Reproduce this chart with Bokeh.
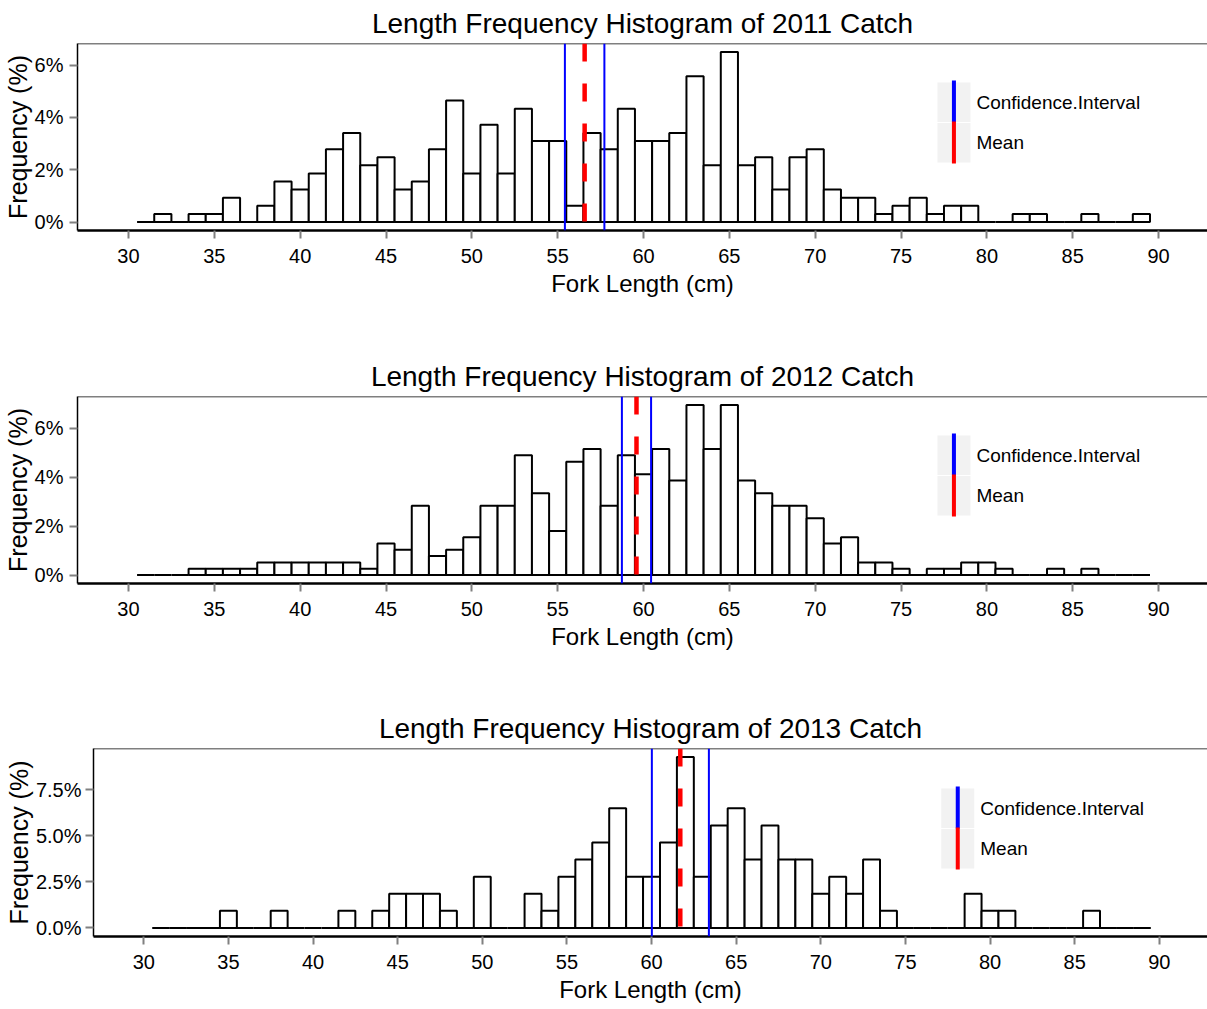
from bokeh.plotting import figure
from bokeh.models import Span, Label, BoxAnnotation, FixedTicker
from bokeh.embed import file_html
from bokeh.resources import INLINE

# ---- data -------------------------------------------------------------
bin_centers = list(range(31, 90))          # 1 cm bins, 30.5 .. 89.5
bin_width = 1.0

counts_2011 = [0, 1, 0, 1, 1, 3, 0, 2, 5, 4,
               6, 9, 11, 7, 8, 4, 5, 9, 15, 6,
               12, 6, 14, 10, 10, 2, 11, 9, 14, 10,
               10, 11, 18, 7, 21, 7, 8, 4, 8, 9,
               4, 3, 3, 1, 2, 3, 1, 2, 2, 0,
               0, 1, 1, 0, 0, 1, 0, 0, 1]
counts_2012 = [0, 0, 0, 1, 1, 1, 1, 2, 2, 2,
               2, 2, 2, 1, 5, 4, 11, 3, 4, 6,
               11, 11, 19, 13, 7, 18, 20, 11, 19, 16,
               20, 15, 27, 20, 27, 15, 13, 11, 11, 9,
               5, 6, 2, 2, 1, 0, 1, 1, 2, 2,
               1, 0, 0, 1, 0, 1, 0, 0, 0]
counts_2013 = [0, 0, 0, 0, 1, 0, 0, 1, 0, 0,
               0, 1, 0, 1, 2, 2, 2, 1, 0, 3,
               0, 0, 2, 1, 3, 4, 5, 7, 3, 3,
               5, 10, 3, 6, 7, 4, 6, 4, 4, 2,
               3, 2, 4, 1, 0, 0, 0, 0, 2, 1,
               1, 0, 0, 0, 0, 1, 0, 0, 0]

years = ["2011", "2012", "2013"]
means = [56.57, 59.59, 61.70]
ci_low = [55.42, 58.74, 60.02]
ci_high = [57.72, 60.44, 63.39]

x_ticks = [30, 35, 40, 45, 50, 55, 60, 65, 70, 75, 80, 85, 90]
y_ticks_pct = [0, 2, 4, 6]
y_labels_pct = ["0%", "2%", "4%", "6%"]
y_ticks_pct_fine = [0, 2.5, 5, 7.5]
y_labels_pct_fine = ["0.0%", "2.5%", "5.0%", "7.5%"]
legend_labels = ["Confidence.Interval", "Mean"]

FONT = "Liberation Sans"
FIG_W = 1207
BORDER_TOP = 42


def make_panel(year, counts, mean, lo, hi, yticks, ylabels, height, border_left,
               border_bottom, ylabel_standoff):
    total = sum(counts)
    pct = [c / total * 100 for c in counts]
    ymax = max(pct)
    frame_w = FIG_W - border_left
    p = figure(width=FIG_W, height=height, output_backend="svg", toolbar_location=None,
               x_range=(27.03, 92.85), y_range=(-0.05 * ymax, 1.05 * ymax),
               min_border_left=border_left, min_border_right=0, min_border_top=BORDER_TOP,
               min_border_bottom=border_bottom,
               title="Length Frequency Histogram of %s Catch" % year)
    p.title.text_font = FONT
    p.title.text_font_size = "28px"
    p.title.text_font_style = "normal"
    p.title.text_color = "black"
    p.title.align = "center"
    p.title.standoff = 10
    p.outline_line_color = None
    p.xgrid.visible = False
    p.ygrid.visible = False
    p.background_fill_color = "white"
    p.border_fill_color = "white"

    # axes
    p.xaxis.ticker = FixedTicker(ticks=x_ticks)
    p.xaxis.axis_label = "Fork Length (cm)"
    p.yaxis.ticker = FixedTicker(ticks=yticks)
    p.yaxis.major_label_overrides = {t: l for t, l in zip(yticks, ylabels)}
    p.yaxis.axis_label = "Frequency (%)"
    for ax in (p.xaxis[0], p.yaxis[0]):
        ax.axis_label_text_font = FONT
        ax.axis_label_text_font_style = "normal"
        ax.axis_label_text_color = "black"
        ax.major_label_text_font = FONT
        ax.major_label_text_font_size = "20px"
        ax.major_label_text_color = "black"
        ax.major_tick_line_color = "#808080"
        ax.major_tick_line_width = 2
        ax.major_tick_out = 8
        ax.major_tick_in = 0
        ax.minor_tick_line_color = None
        ax.axis_line_color = "black"
    p.xaxis.major_label_standoff = 10
    p.yaxis.major_label_standoff = ylabel_standoff
    p.xaxis.axis_label_text_font_size = "24px"
    p.xaxis.axis_line_width = 2.5
    p.xaxis.axis_label_standoff = 4
    p.yaxis.axis_label_text_font_size = "25px"
    p.yaxis.axis_label_standoff = 0
    p.yaxis.axis_line_width = 1.5

    # top border of panel
    p.add_layout(Span(location=1.05 * ymax, dimension="width", line_color="black", line_width=1.5))

    # histogram bars
    lefts = [c - bin_width / 2 for c in bin_centers]
    rights = [c + bin_width / 2 for c in bin_centers]
    p.quad(left=lefts, right=rights, bottom=0, top=pct,
           fill_color="white", line_color="black", line_width=2)

    # confidence interval and mean
    for loc in (lo, hi):
        p.add_layout(Span(location=loc, dimension="height", line_color="#0000FF", line_width=2))
    p.add_layout(Span(location=mean, dimension="height", line_color="#FF0000",
                      line_width=4.5, line_dash="18 22"))

    # legend (drawn by hand so the keys show vertical lines)
    kl = 0.761 * frame_w
    scr = dict(left_units="screen", right_units="screen", top_units="screen", bottom_units="screen")
    p.add_layout(BoxAnnotation(left=kl, right=kl + 33, top=148, bottom=108.5,
                               fill_color="#F2F2F2", fill_alpha=1, line_color=None, **scr))
    p.add_layout(BoxAnnotation(left=kl, right=kl + 33, top=107.5, bottom=68,
                               fill_color="#F2F2F2", fill_alpha=1, line_color=None, **scr))
    p.add_layout(BoxAnnotation(left=kl + 14.5, right=kl + 18.5, top=150, bottom=108,
                               fill_color="#0000FF", fill_alpha=1, line_color=None, **scr))
    p.add_layout(BoxAnnotation(left=kl + 14.5, right=kl + 18.5, top=109, bottom=67,
                               fill_color="#FF0000", fill_alpha=1, line_color=None, **scr))
    for txt, yy in zip(legend_labels, (128.5, 88.5)):
        p.add_layout(Label(x=kl + 39, y=yy, x_units="screen", y_units="screen", text=txt,
                           text_baseline="middle", text_font=FONT, text_font_size="19px",
                           text_color="black"))
    return p


p1 = make_panel(years[0], counts_2011, means[0], ci_low[0], ci_high[0],
                y_ticks_pct, y_labels_pct, 353, 77, 123, 6)
p2 = make_panel(years[1], counts_2012, means[1], ci_low[1], ci_high[1],
                y_ticks_pct, y_labels_pct, 352, 77, 122, 6)
p3 = make_panel(years[2], counts_2013, means[2], ci_low[2], ci_high[2],
                y_ticks_pct_fine, y_labels_pct_fine, 304, 93, 73, 4)

open("out.html", "w").write(file_html([p1, p2, p3], INLINE))
